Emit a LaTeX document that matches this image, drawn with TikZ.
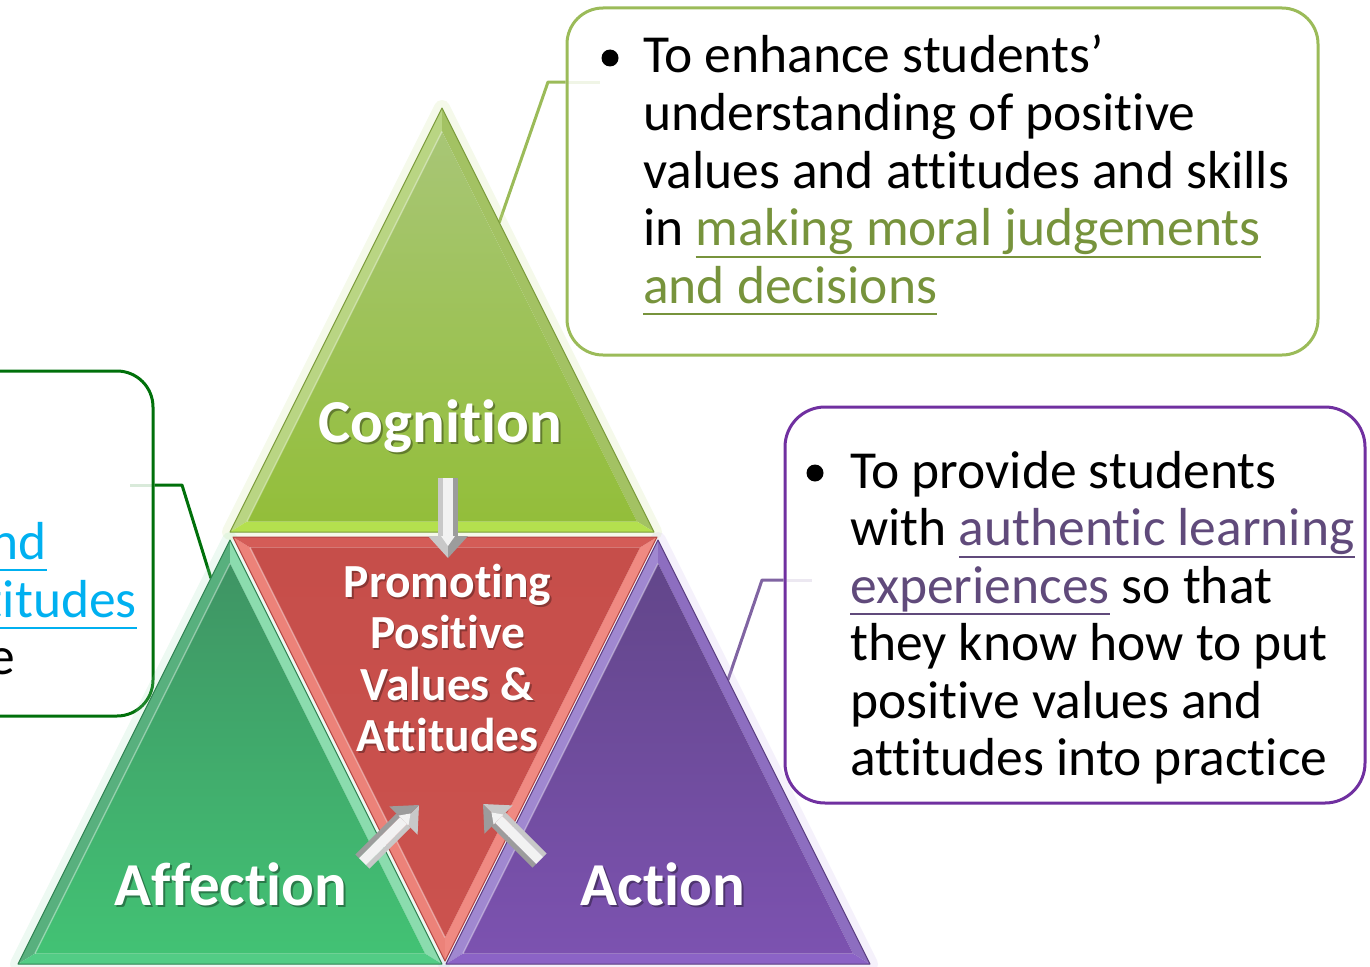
\documentclass[tikz,border=0pt]{standalone}
\usepackage{fontspec}
\setmainfont[Ligatures={NoCommon,NoRare,NoContextual}]{Carlito}
\usetikzlibrary{calc}
\newcommand\myul[1]{\setbox0\hbox{#1}\rlap{\rule[-12pt]{\wd0}{1.8pt}}\box0}

\definecolor{gline}{HTML}{9BBB59}
\definecolor{glink}{HTML}{77933C}
\definecolor{pline}{HTML}{7030A0}
\definecolor{pconn}{HTML}{8064A2}
\definecolor{plink}{HTML}{604A7B}
\definecolor{dgline}{HTML}{00700A}
\definecolor{clink}{HTML}{00B0F0}
\definecolor{arrL}{HTML}{C8C8C8}
\definecolor{arrC}{HTML}{F2F2F2}
\definecolor{arrR}{HTML}{9C9C9C}
% triangle colours: left band, right band, base band, top, middle, bottom, outline
\definecolor{tL}{HTML}{B9D583}\definecolor{tR}{HTML}{A3C263}\definecolor{tS}{HTML}{B4E04E}
\definecolor{tT}{HTML}{A8C676}\definecolor{tM}{HTML}{8CB042}\definecolor{tB}{HTML}{93BE3A}\definecolor{tO}{HTML}{7A9A3A}
\definecolor{gL}{HTML}{58B07E}\definecolor{gR}{HTML}{8BDCAE}\definecolor{gS}{HTML}{52CC85}
\definecolor{gT}{HTML}{3F9464}\definecolor{gM}{HTML}{3DA765}\definecolor{gB}{HTML}{42C274}\definecolor{gO}{HTML}{2E8050}
\definecolor{pL}{HTML}{A088D0}\definecolor{pR}{HTML}{8D6EC0}\definecolor{pS}{HTML}{8B63C6}
\definecolor{pT}{HTML}{62468A}\definecolor{pM}{HTML}{6A4A96}\definecolor{pB}{HTML}{7C52B0}\definecolor{pO}{HTML}{5A3D80}
\definecolor{rL}{HTML}{EC8279}\definecolor{rR}{HTML}{F08A82}\definecolor{rS}{HTML}{D45C57}
\definecolor{rT}{HTML}{C64E4A}\definecolor{rM}{HTML}{C9514D}\definecolor{rB}{HTML}{CB524E}\definecolor{rO}{HTML}{B04542}
\definecolor{tglow}{HTML}{C5E08A}\definecolor{gglow}{HTML}{9AE0B5}\definecolor{pglow}{HTML}{C7B3E8}

\newcommand\mktri[4]{%
  \coordinate (#1a) at (#2,#3);
  \coordinate (#1b) at ({#2-212},{#3+424*(#4)});
  \coordinate (#1c) at ({#2+212},{#3+424*(#4)});
  \coordinate (#1o) at (#2,{#3+293*(#4)});
  \coordinate (#1A) at ($(#1o)!0.92!(#1a)$);
  \coordinate (#1B) at ($(#1o)!0.92!(#1b)$);
  \coordinate (#1C) at ($(#1o)!0.92!(#1c)$);
}
\newcommand\drawtri[1]{%
  \fill[#1L] (#1a)--(#1b)--(#1B)--(#1A)--cycle;
  \fill[#1R] (#1a)--(#1A)--(#1C)--(#1c)--cycle;
  \fill[#1S] (#1b)--(#1c)--(#1C)--(#1B)--cycle;
  \shade[top color=#1T, middle color=#1M, bottom color=#1B] (#1A)--(#1B)--(#1C)--cycle;
  \draw[#1O, line width=1pt, line join=round] (#1a)--(#1b)--(#1c)--cycle;
  \draw[white, opacity=.35, line width=1.5pt] (#1A)--(#1B);
}
\newcommand\blockarrow[4]{%
  \begin{scope}[shift={(#2,#3)}, rotate=#4]
    \coordinate (#1) at (0,0);
    \fill[arrL] (-10,-80) rectangle (-5,-22);
    \fill[arrC] (-5,-80) rectangle (5,-22);
    \fill[arrR] (5,-80) rectangle (10,-22);
    \fill[arrL] (-20,-22) -- (0,-22) -- (0,0) -- cycle;
    \fill[arrR] (0,-22) -- (20,-22) -- (0,0) -- cycle;
    \fill[arrC] (-7,-22) -- (7,-22) -- (0,-12) -- cycle;
  \end{scope}}

\tikzset{
  body/.style={font=\fontsize{53.5}{57.5}\selectfont, inner sep=0, anchor=base west, text=black},
  bulletdot/.style={circle, fill=black, minimum size=17, inner sep=0},
  lab/.style={text=white, font=\fontsize{61}{61}\selectfont\bfseries, inner sep=0, anchor=base},
  labshadow/.style={text=black, text opacity=0.35, font=\fontsize{61}{61}\selectfont\bfseries, inner sep=0, anchor=base},
  clab/.style={text=white, font=\fontsize{47.5}{51}\selectfont\bfseries, inner sep=0, anchor=base},
  clabshadow/.style={text=black, text opacity=0.3, font=\fontsize{47.5}{51}\selectfont\bfseries, inner sep=0, anchor=base},
  callout/.style={draw, rounded corners=36, line width=3pt, inner sep=0},
  glow/.style={line width=16pt, line join=round, opacity=0.18},
}

\begin{document}
\begin{tikzpicture}[x=1pt, y=-1pt]
\useasboundingbox (0,0) rectangle (1370,966);
\clip (0,0) rectangle (1370,966);

% triangle geometry
\mktri{t}{442}{108}{1}
\mktri{r}{445}{961}{-1}
\mktri{g}{230}{540}{1}
\mktri{p}{658}{540}{1}

% callout boxes
\node[callout, draw=gline, minimum width=751, minimum height=347] (gbox) at (942.5,181.5) {};
\node[callout, draw=pline, minimum width=580, minimum height=396, rounded corners=40] (pbox) at (1075,605) {};
\node[callout, draw=dgline, minimum width=253, minimum height=345] (lbox) at (26.5,543.5) {};

% connectors
\coordinate (gstart) at ($(ta)!0.27!(tc)$);
\coordinate (gknee) at (548,82);
\coordinate (gfade) at (600,82);
\draw[gline, line width=3pt, line join=round] (gstart) -- (gknee) -- (gbox.west |- gknee);
\draw[gline, line width=3pt, opacity=0.15] (gbox.west |- gknee) -- (gfade);

\coordinate (pstart) at ($(pa)!0.33!(pc)$);
\coordinate (pknee) at (762,580);
\coordinate (pfade) at (812,580);
\draw[pconn, line width=3pt, line join=round] (pstart) -- (pknee) -- (pbox.west |- pknee);
\draw[pconn, line width=3pt, opacity=0.15] (pbox.west |- pknee) -- (pfade);

\coordinate (lstart) at ($(ga)!0.09!(gb)$);
\coordinate (lknee) at (182,485);
\coordinate (lfade) at (130,485);
\draw[dgline, line width=3pt, line join=round] (lstart) -- (lknee) -- (lbox.east |- lknee);
\draw[dgline, line width=3pt, opacity=0.15] (lbox.east |- lknee) -- (lfade);

% glows
\draw[glow, draw=tglow] (ta)--(tb)--(tc)--cycle;
\draw[glow, draw=gglow] (ga)--(gb)--(gc)--cycle;
\draw[glow, draw=pglow] (pa)--(pb)--(pc)--cycle;

% triangles
\drawtri{t}
\drawtri{g}
\drawtri{p}
\drawtri{r}

% block arrows
\blockarrow{adown}{448}{558}{0}
\blockarrow{aright}{419}{805}{135}
\blockarrow{aleft}{483}{804}{-135}

% triangle labels
\node[labshadow] (cogS) at (442,444) {Cognition};
\node[lab] (cog) at (440,442) {Cognition};
\node[labshadow] (affS) at (233,907) {Affection};
\node[lab] (aff) at (231,905) {Affection};
\node[labshadow] (actS) at (665,907) {Action};
\node[lab] (act) at (663,905) {Action};

\node[clabshadow] (c1S) at (449,599) {Promoting};
\node[clab] (c1) at (447.5,597) {Promoting};
\node[clabshadow] (c2S) at (449,650) {Positive};
\node[clab] (c2) at (447.5,648) {Positive};
\node[clabshadow] (c3S) at (449,702) {Values \&};
\node[clab] (c3) at (447.5,700) {Values \&};
\node[clabshadow] (c4S) at (449,753) {Attitudes};
\node[clab] (c4) at (447.5,751) {Attitudes};

% green callout text
\node[bulletdot] (gdot) at (610,58) {};
\node[body] (g1) at (643,73) {To enhance students’};
\node[body] (g2) at (643,130.5) {understanding of positive};
\node[body] (g3) at (643,188) {values and attitudes and skills};
\node[body] (g4) at (643,245.5) {in {\color{glink}\myul{making moral judgements}}};
\node[body] (g5) at (643,303) {{\color{glink}\myul{and decisions}}};

% purple callout text
\node[bulletdot] (pdot) at (815,473) {};
\node[body] (p1) at (850,488) {To provide students};
\node[body] (p2) at (850,545.5) {with {\color{plink}\myul{authentic learning}}};
\node[body] (p3) at (850,603) {{\color{plink}\myul{experiences}} so that};
\node[body] (p4) at (850,660.5) {they know how to put};
\node[body] (p5) at (850,718) {positive values and};
\node[body] (p6) at (850,775.5) {attitudes into practice};

% left callout text (cut off at the page edge, as in the reference)
\node[body, anchor=base east] (l1) at (47,559) {{\color{clink}\myul{nd}}};
\node[body, anchor=base east] (l2) at (137,617) {{\color{clink}\myul{titudes}}};
\node[body, anchor=base east] (l3) at (15,674) {e};
\end{tikzpicture}
\end{document}
